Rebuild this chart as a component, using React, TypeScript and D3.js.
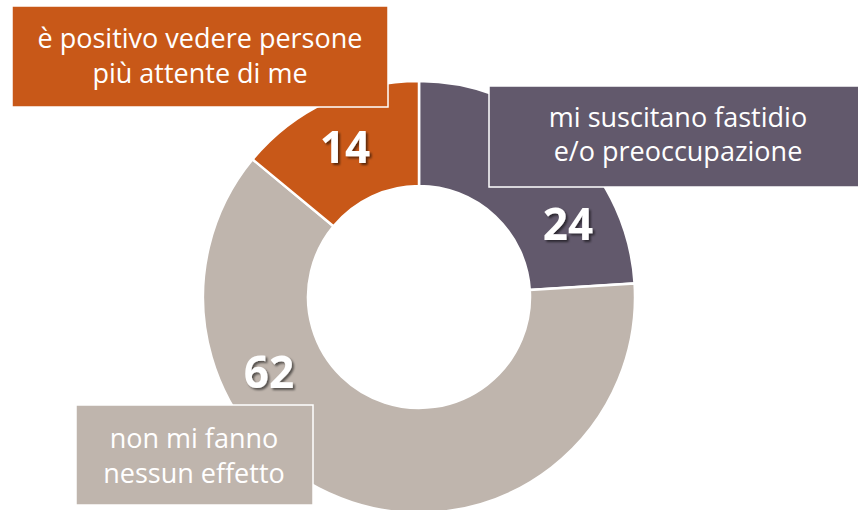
import React from "react";
import * as d3 from "d3";

const categories = [
  "mi suscitano fastidio e/o preoccupazione",
  "non mi fanno nessun effetto",
  "è positivo vedere persone più attente di me",
];
const values = [24, 62, 14];
const colors = ["#62596C", "#BFB5AD", "#C85818"];
const labelLines = [
  ["mi suscitano fastidio", "e/o preoccupazione"],
  ["non mi fanno", "nessun effetto"],
  ["è positivo vedere persone", "più attente di me"],
];

const W = 858;
const H = 510;
const cx = 419;
const cy = 297;
const outerR = 216;
const innerR = 111;

const boxes = [
  { x: 489, y: 86, w: 380, h: 101, tx: 678, b1: 127, b2: 161 },
  { x: 76, y: 405, w: 237, h: 100, tx: 194, b1: 448, b2: 483 },
  { x: 12, y: 6, w: 376, h: 101, tx: 200, b1: 48, b2: 83 },
];
const numberPos = [
  { x: 568, y: 240 },
  { x: 269, y: 388 },
  { x: 345, y: 163 },
];

export default function App() {
  const pie = d3.pie<number>().sort(null).value((d) => d)(values);
  const arc = d3.arc<d3.PieArcDatum<number>>().innerRadius(innerR).outerRadius(outerR);
  return (
    <svg
      width={W}
      height={H}
      style={{ position: "absolute", left: 0, top: 0, background: "#fff" }}
    >
      <defs>
        <filter id="sh" x="-20%" y="-20%" width="150%" height="150%">
          <feDropShadow dx="2" dy="2" stdDeviation="1.2" floodColor="#000" floodOpacity="0.55" />
        </filter>
      </defs>
      <g transform={`translate(${cx},${cy})`}>
        {pie.map((p, i) => (
          <path key={i} d={arc(p) || ""} fill={colors[i]} stroke="#fff" strokeWidth={2.5} />
        ))}
      </g>
      {pie.map((p, i) => (
        <text
          key={"n" + i}
          x={numberPos[i].x}
          y={numberPos[i].y}
          textAnchor="middle"
          fill="#fff"
          fontFamily="'Open Sans', sans-serif"
          fontWeight={700}
          fontSize={44}
          filter="url(#sh)"
        >
          {values[i]}
        </text>
      ))}
      {boxes.map((b, i) => (
        <g key={"b" + i}>
          <rect x={b.x} y={b.y} width={b.w} height={b.h} fill={colors[i]} stroke="#fff" strokeWidth={1.5} />
          <text
            x={b.tx}
            y={b.b1}
            textAnchor="middle"
            fill="#fff"
            fontFamily="'Open Sans', sans-serif"
            fontSize={27}
          >
            {labelLines[i][0]}
          </text>
          <text
            x={b.tx}
            y={b.b2}
            textAnchor="middle"
            fill="#fff"
            fontFamily="'Open Sans', sans-serif"
            fontSize={27}
          >
            {labelLines[i][1]}
          </text>
        </g>
      ))}
    </svg>
  );
}
